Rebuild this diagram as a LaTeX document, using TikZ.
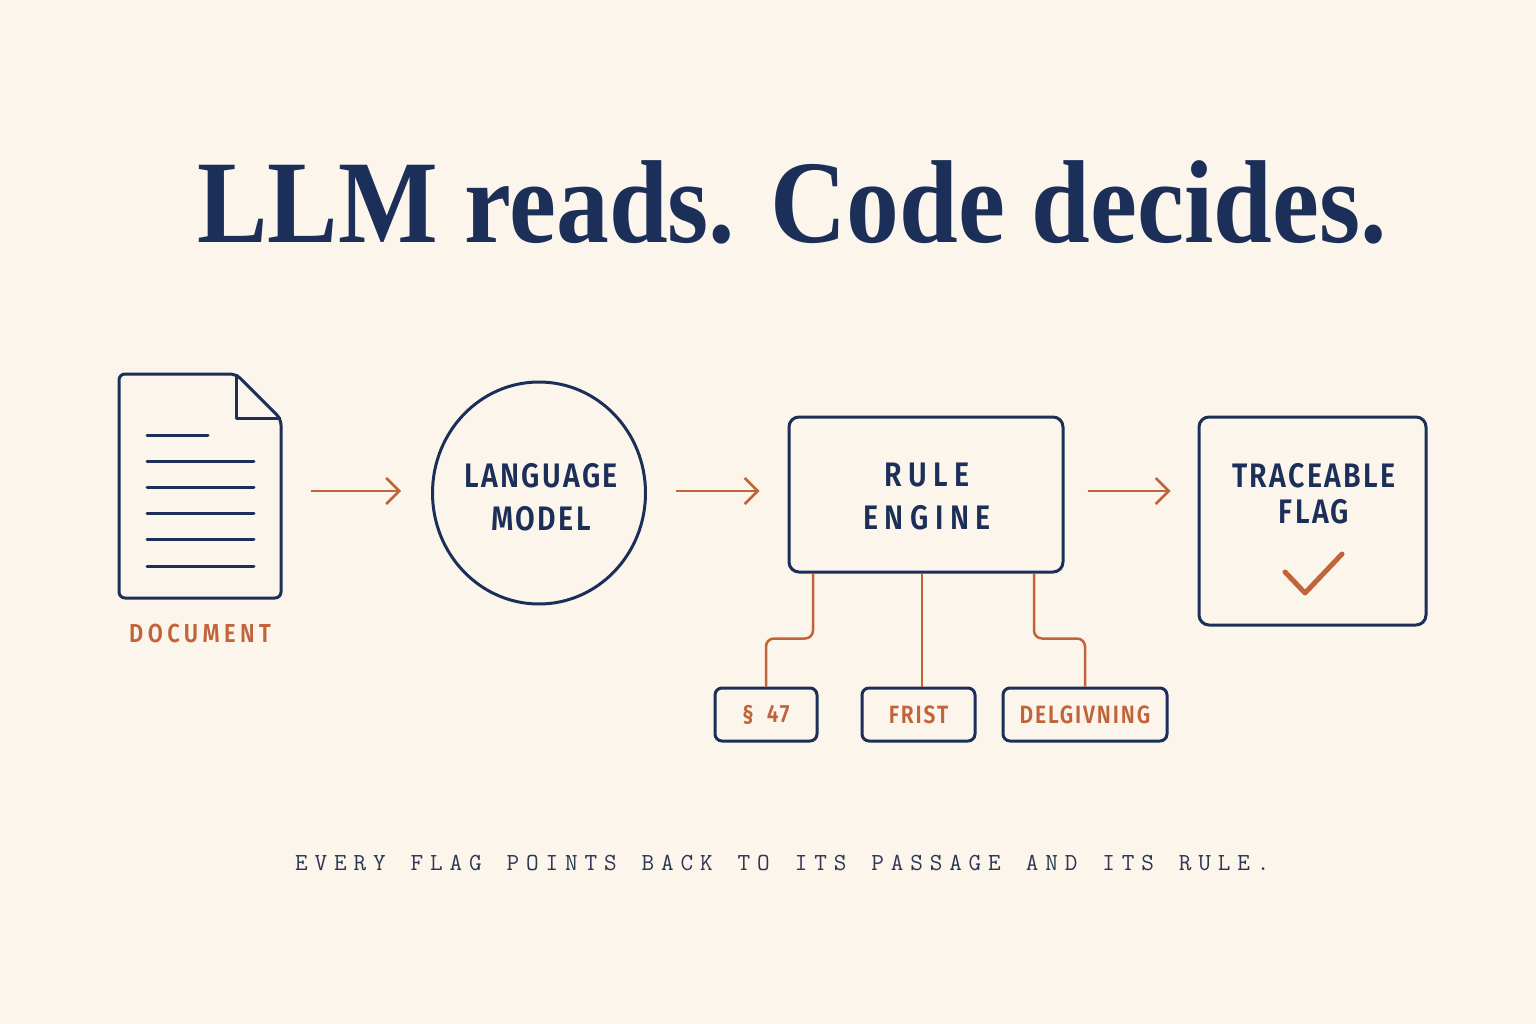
\documentclass[tikz,border=0pt]{standalone}
\usepackage{fontspec}
\usetikzlibrary{arrows.meta,calc,shapes.geometric}
\setmainfont{Liberation Serif}
\newfontfamily\lab{Fira Sans}[UprightFont={* SemiBold},FakeStretch=0.84,LetterSpace=7]
\newfontfamily\mono{Latin Modern Mono}[LetterSpace=28]
\definecolor{bg}{HTML}{FBF5EB}
\definecolor{navy}{HTML}{1C2F58}
\definecolor{rust}{HTML}{C2643A}
\definecolor{foot}{HTML}{2C3652}
\newcommand{\wsp}{\ \hspace{5.5pt}}
\tikzset{
  navyline/.style={draw=navy,line width=3pt},
  flow/.style={draw=rust,line width=2.5pt,-{Straight Barb[length=13pt,width=26pt,line width=2.5pt]}},
  conn/.style={draw=rust,line width=2.5pt,rounded corners=8pt},
  bigbox/.style={navyline,rounded corners=10pt,inner sep=0pt},
  smallbox/.style={navyline,rounded corners=7pt,minimum height=53pt,inner sep=0pt,text=rust,font=\lab\fontsize{25}{26}\selectfont\addfontfeatures{LetterSpace=7.5}},
  blab/.style={text=navy,font=\lab\fontsize{34}{43}\selectfont,align=center},
}
\begin{document}
\begin{tikzpicture}[x=1pt,y=-1pt]
\fill[bg] (0,0) rectangle (1536,1024);
\useasboundingbox (0,0) rectangle (1536,1024);
% title
\node[text=navy,font=\fontsize{118}{120}\selectfont\bfseries,anchor=base] (title) at (792,243) {\scalebox{0.895}[1]{LLM reads. Code decides.}};
% document
\node[minimum width=162pt,minimum height=224pt,inner sep=0pt] (doc) at (200,486) {};
\draw[navyline,line join=round,rounded corners=6pt] (236,374) -- (119,374) -- (119,598) -- (281,598) -- (281,419) -- cycle;
\draw[navyline,line join=round] (236,374) -- (236,418) -- (281,418);
\foreach \yy/\xe in {435/208,461/254,487/254,513/254,539/254,566/254}
  \draw[navy,line width=3pt,line cap=round] (147,\yy) -- (\xe,\yy);
\node[text=rust,font=\lab\fontsize{26}{26}\selectfont\addfontfeatures{LetterSpace=17},anchor=base] (doclab) at (200,642) {DOCUMENT};
% language model
\node[ellipse,navyline,minimum width=213pt,minimum height=222pt,inner sep=0pt] (lm) at (539,493) {};
\node[blab] (lmtext) at (541,497) {LANGUAGE\\MODEL};
% rule engine
\node[bigbox,minimum width=274pt,minimum height=155pt] (re) at (926,494.5) {};
\node[blab,font=\lab\fontsize{34}{43}\selectfont\addfontfeatures{LetterSpace=19}] (retext) at (927,497) {RULE\\ENGINE};
% traceable flag
\node[bigbox,minimum width=227pt,minimum height=208pt] (fl) at (1312.5,521) {};
\node[blab,font=\lab\fontsize{34}{36}\selectfont] (fltext) at (1314,494) {TRACEABLE\\FLAG};
\coordinate (c1) at ($(fl.center)+(-27.5,51)$);
\coordinate (c2) at ($(fl.center)+(-7.5,72)$);
\coordinate (c3) at ($(fl.center)+(29.5,33)$);
\draw[rust,line width=5pt,line cap=round,line join=round] (c1) -- (c2) -- (c3);
% arrows
\coordinate (ay) at (0,491);
\draw[flow,shorten <=30pt,shorten >=30pt] (doc.east |- ay) -- (lm.west |- ay);
\draw[flow,shorten <=29pt,shorten >=28pt] (lm.east |- ay) -- (re.west |- ay);
\draw[flow,shorten <=23pt,shorten >=27pt] (re.east |- ay) -- (fl.west |- ay);
% small boxes
\node[smallbox,minimum width=102pt] (s47) at (766,714.5) {§\hspace{6pt} 47};
\node[smallbox,minimum width=113pt] (frist) at (918.5,714.5) {FRIST};
\node[smallbox,minimum width=164pt] (delg) at (1085,714.5) {DELGIVNING};
\coordinate (l1) at ($(re.south)+(-113,0)$);
\coordinate (r1) at ($(re.south)+(108,0)$);
\draw[conn] (l1) -- ++(0,65) -| (s47.north);
\draw[conn] (r1) -- ++(0,65) -| (delg.north);
\draw[conn] (frist.north -| 922,0) -- (re.south -| 922,0);
% footer
\node[text=foot,font=\mono\fontsize{24.5}{26}\selectfont,anchor=base west,inner sep=0pt] (footer) at (295,870) {EVERY\wsp FLAG\wsp POINTS\wsp BACK\wsp TO\wsp ITS\wsp PASSAGE\wsp AND\wsp ITS\wsp RULE.};
\end{tikzpicture}
\end{document}
